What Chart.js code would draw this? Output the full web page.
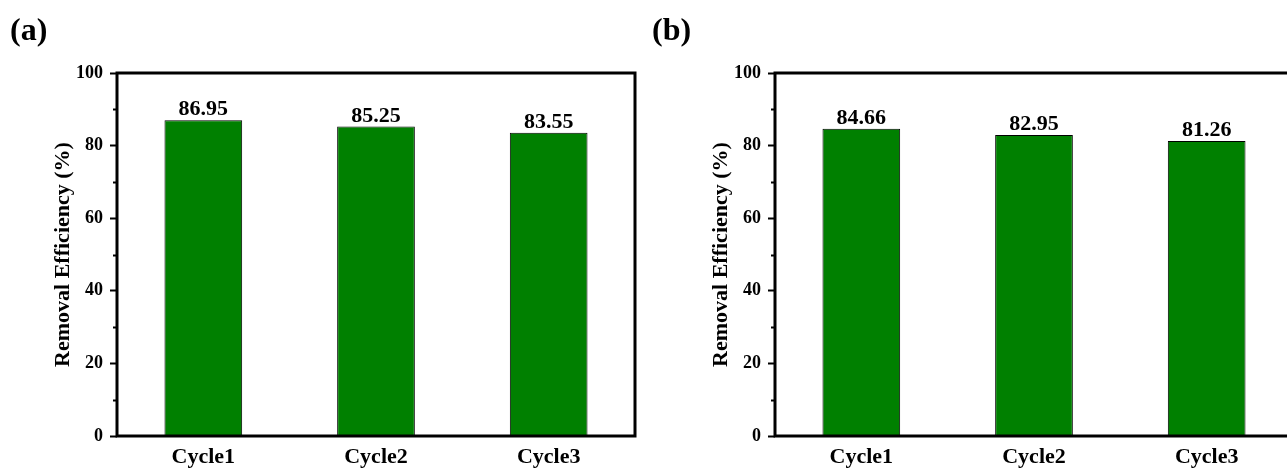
<!DOCTYPE html>
<html>
<head>
<meta charset="utf-8">
<script src="https://cdn.jsdelivr.net/npm/chart.js@4.4.1/dist/chart.umd.min.js"></script>
<style>
  html, body { margin: 0; padding: 0; background: #fff; overflow: hidden; }
  body { width: 1287px; height: 468px; position: relative; }
  canvas { position: absolute; top: 0; }
  #chartA { left: 0; }
  #chartB { left: 658px; }
  .panel-label {
    position: absolute; top: 13px;
    font: bold 32px "Liberation Serif", "Times New Roman", serif;
    line-height: 32px; color: #000;
  }
</style>
</head>
<body>
<canvas id="chartA" width="660" height="468"></canvas>
<canvas id="chartB" width="660" height="468"></canvas>
<div class="panel-label" style="left:10px">(a)</div>
<div class="panel-label" style="left:652px">(b)</div>
<script>
// Removal efficiency over three reuse cycles
const cycles = ["Cycle1", "Cycle2", "Cycle3"];
const efficiencyA = [86.95, 85.25, 83.55];
const efficiencyB = [84.66, 82.95, 81.26];
const yTicksMajor = [0, 20, 40, 60, 80, 100];
const yTicksMinor = [10, 30, 50, 70, 90];
const axisTitle = "Removal Efficiency (%)";

const SERIF = '"Liberation Serif", "Times New Roman", serif';
const GREEN = "#008000";

// Closed frame around the plot area plus short minor ticks on the y axis
const framePlugin = {
  id: "frame",
  afterDraw(chart) {
    const { ctx, chartArea: a, scales } = chart;
    ctx.save();
    ctx.strokeStyle = "#000";
    ctx.lineWidth = 2;
    const y = scales.y;
    yTicksMinor.forEach(v => {
      const py = Math.round(y.getPixelForValue(v)) + 0.5;
      ctx.beginPath();
      ctx.moveTo(a.left, py);
      ctx.lineTo(a.left - 4, py);
      ctx.stroke();
    });
    ctx.lineWidth = 3;
    ctx.strokeRect(a.left, a.top, a.right - a.left, a.bottom - a.top);
    ctx.restore();
  }
};

// Value written above each bar
const valueLabelPlugin = {
  id: "valueLabels",
  afterDatasetsDraw(chart) {
    const { ctx } = chart;
    ctx.save();
    ctx.font = "bold 22px " + SERIF;
    ctx.fillStyle = "#000";
    ctx.textAlign = "center";
    ctx.textBaseline = "alphabetic";
    chart.data.datasets.forEach((ds, di) => {
      chart.getDatasetMeta(di).data.forEach((bar, i) => {
        ctx.fillText(ds.data[i].toFixed(2), bar.x, bar.y - 5);
      });
    });
    ctx.restore();
  }
};

function makeChart(id, values) {
  return new Chart(document.getElementById(id), {
    type: "bar",
    data: {
      labels: cycles,
      datasets: [{
        data: values,
        backgroundColor: GREEN,
        borderColor: "#000",
        borderWidth: 1,
        barPercentage: 0.45,
        categoryPercentage: 1.0
      }]
    },
    options: {
      responsive: false,
      animation: false,
      devicePixelRatio: 1,
      layout: { padding: { top: 73, right: 25, bottom: 0, left: 0 } },
      plugins: { legend: { display: false }, tooltip: { enabled: false } },
      scales: {
        x: {
          grid: { display: false, drawTicks: false },
          border: { display: false },
          ticks: {
            padding: 8,
            color: "#000",
            font: { family: SERIF, size: 22, weight: "bold" }
          },
          afterFit(s) { s.height = 32; }
        },
        y: {
          min: 0,
          max: 100,
          afterBuildTicks(s) { s.ticks = yTicksMajor.map(v => ({ value: v })); },
          grid: {
            drawOnChartArea: false,
            drawTicks: true,
            tickLength: 7,
            tickWidth: 2,
            tickColor: "#000"
          },
          border: { display: false },
          ticks: {
            padding: 7,
            color: "#000",
            font: { family: SERIF, size: 18, weight: "bold" }
          },
          title: {
            display: true,
            text: axisTitle,
            color: "#000",
            padding: { top: 50, bottom: 0 },
            font: { family: SERIF, size: 22, weight: "bold" }
          },
          afterFit(s) { s.width = 117; }
        }
      }
    },
    plugins: [framePlugin, valueLabelPlugin]
  });
}

makeChart("chartA", efficiencyA);
makeChart("chartB", efficiencyB);
</script>
</body>
</html>
